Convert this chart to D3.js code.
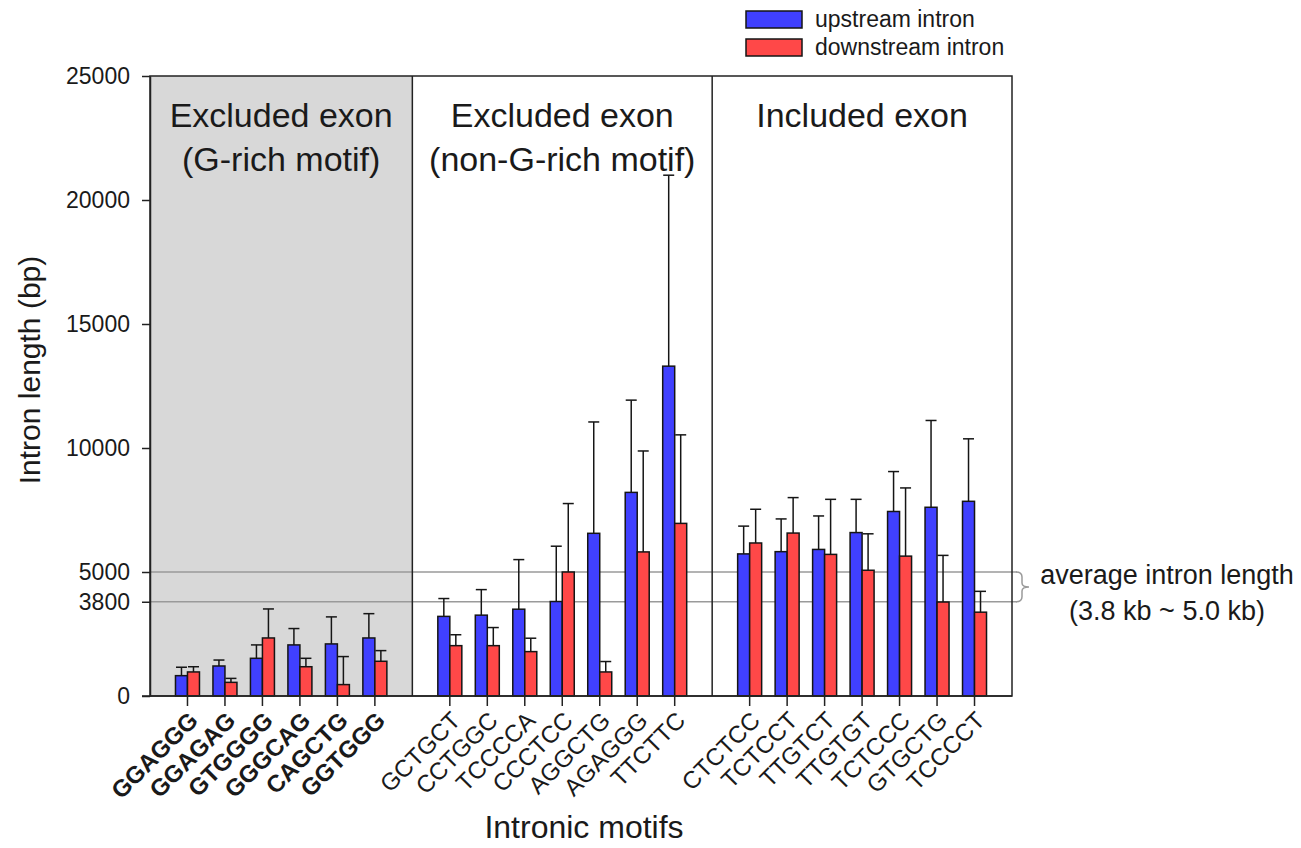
<!DOCTYPE html>
<html>
<head>
<meta charset="utf-8">
<script src="https://cdn.jsdelivr.net/npm/d3@7"></script>
<style>
body { margin: 0; background: #fff; }
text { font-family: "Liberation Sans", Arial, Helvetica, sans-serif; fill: #1a1a1a; }
</style>
</head>
<body>
<svg id="chart" width="1301" height="848"></svg>
<script>
// motifs, grouped into three panels
var motifs = ["GGAGGG", "GGAGAG", "GTGGGG", "GGGCAG", "CAGCTG", "GGTGGG",
              "GCTGCT", "CCTGGC", "TCCCCA", "CCCTCC", "AGGCTG", "AGAGGG", "TTCTTC",
              "CTCTCC", "TCTCCT", "TTGTCT", "TTGTGT", "TCTCCC", "GTGCTG", "TCCCCT"];
var groupOf = [0, 0, 0, 0, 0, 0, 1, 1, 1, 1, 1, 1, 1, 2, 2, 2, 2, 2, 2, 2];
var panelTitles = [["Excluded exon", "(G-rich motif)"], ["Excluded exon", "(non-G-rich motif)"], ["Included exon"]];

// mean intron length (bp) and error (bp)
var upstream    = [820, 1210, 1520, 2060, 2100, 2340,
                   3210, 3260, 3500, 3810, 6560, 8210, 13300,
                   5730, 5820, 5910, 6590, 7440, 7610, 7850];
var upstreamErr = [340, 240, 540, 660, 1090, 980,
                   720, 1030, 2000, 2230, 4490, 3720, 7700,
                   1120, 1320, 1350, 1340, 1610, 3500, 2520];
var downstream    = [970, 550, 2340, 1180, 460, 1400,
                     2030, 2030, 1790, 5000, 970, 5810, 6960,
                     6170, 6570, 5710, 5070, 5640, 3790, 3380];
var downstreamErr = [210, 160, 1170, 340, 1130, 430,
                     440, 730, 540, 2760, 420, 4070, 3570,
                     1360, 1430, 2220, 1470, 2750, 1880, 840];

var yTicks = [0, 3800, 5000, 10000, 15000, 20000, 25000];
var refLines = [3800, 5000];
var seriesNames = ["upstream intron", "downstream intron"];
var colors = ["#4040ff", "#ff4848"];

var svg = d3.select("#chart");
var pLeft = 150, pRight = 1012, pTop = 76, pBottom = 696;
var barW = 12;

// slots with a spacer between panels
var slots = [];
motifs.forEach(function (m, i) {
    if (i > 0 && groupOf[i] != groupOf[i - 1]) slots.push("gap" + groupOf[i]);
    slots.push(m);
});

var x = d3.scaleBand().domain(slots).range([pLeft, pRight]).paddingInner(0).paddingOuter(0.5);
var y = d3.scaleLinear().domain([0, 25000]).range([pBottom, pTop]);
function cx(d) { return x(d) + x.bandwidth() / 2; }

var edges = [pLeft, cx("gap1"), cx("gap2"), pRight];

// gray background for G-rich panel
svg.append("rect")
    .attr("x", edges[0]).attr("y", pTop)
    .attr("width", edges[1] - edges[0]).attr("height", pBottom - pTop)
    .attr("fill", "#d8d8d8");

// reference lines
svg.selectAll(".ref").data(refLines).enter().append("line")
    .attr("x1", pLeft).attr("x2", pRight + 5)
    .attr("y1", function (d) { return y(d); }).attr("y2", function (d) { return y(d); })
    .attr("stroke", "#9a9a9a").attr("stroke-width", 1.5);

// bracket next to reference lines
var yA = y(refLines[1]), yB = y(refLines[0]), ym = (yA + yB) / 2;
svg.append("path")
    .attr("d", "M" + (pRight + 4) + "," + yA + " Q" + (pRight + 10) + "," + yA + " " + (pRight + 10) + "," + (yA + 5) +
               " V" + (ym - 4) + " Q" + (pRight + 10) + "," + ym + " " + (pRight + 17) + "," + ym +
               " Q" + (pRight + 10) + "," + ym + " " + (pRight + 10) + "," + (ym + 4) +
               " V" + (yB - 5) + " Q" + (pRight + 10) + "," + yB + " " + (pRight + 4) + "," + yB)
    .attr("fill", "none").attr("stroke", "#9a9a9a").attr("stroke-width", 1.5);

// bars
var series = [
    { vals: upstream, errs: upstreamErr, off: -barW, color: colors[0] },
    { vals: downstream, errs: downstreamErr, off: 0, color: colors[1] }
];
series.forEach(function (s) {
    svg.append("g").selectAll("rect").data(motifs).enter().append("rect")
        .attr("x", function (d) { return cx(d) + s.off; })
        .attr("y", function (d, i) { return y(s.vals[i]); })
        .attr("width", barW)
        .attr("height", function (d, i) { return pBottom - y(s.vals[i]); })
        .attr("fill", s.color).attr("stroke", "#151515").attr("stroke-width", 1.5);

    var eg = svg.append("g").attr("stroke", "#151515").attr("stroke-width", 1.5);
    eg.selectAll("line.v").data(motifs).enter().append("line")
        .attr("x1", function (d) { return cx(d) + s.off + barW / 2; })
        .attr("x2", function (d) { return cx(d) + s.off + barW / 2; })
        .attr("y1", function (d, i) { return y(s.vals[i]); })
        .attr("y2", function (d, i) { return y(s.vals[i] + s.errs[i]); });
    eg.selectAll("line.c").data(motifs).enter().append("line")
        .attr("x1", function (d) { return cx(d) + s.off + barW / 2 - 5.5; })
        .attr("x2", function (d) { return cx(d) + s.off + barW / 2 + 5.5; })
        .attr("y1", function (d, i) { return y(s.vals[i] + s.errs[i]); })
        .attr("y2", function (d, i) { return y(s.vals[i] + s.errs[i]); });
});

// frame and panel dividers
svg.append("rect")
    .attr("x", pLeft).attr("y", pTop).attr("width", pRight - pLeft).attr("height", pBottom - pTop)
    .attr("fill", "none").attr("stroke", "#222").attr("stroke-width", 1.5);
svg.selectAll(".div").data(edges.slice(1, 3)).enter().append("line")
    .attr("x1", function (d) { return d; }).attr("x2", function (d) { return d; })
    .attr("y1", pTop).attr("y2", pBottom)
    .attr("stroke", "#222").attr("stroke-width", 1.5);

// panel titles
panelTitles.forEach(function (lines, g) {
    var mid = (edges[g] + edges[g + 1]) / 2;
    lines.forEach(function (t, k) {
        svg.append("text").attr("x", mid).attr("y", 127 + k * 44)
            .attr("text-anchor", "middle").style("font-size", "34px").text(t);
    });
});

// y axis
var yAxis = d3.axisLeft(y).tickValues(yTicks).tickSize(8).tickSizeOuter(0).tickPadding(12)
    .tickFormat(d3.format("d"));
var gy = svg.append("g").attr("transform", "translate(" + pLeft + ",0)").call(yAxis);
gy.select(".domain").attr("stroke", "#222").attr("stroke-width", 1.5);
gy.selectAll(".tick line").attr("stroke", "#222").attr("stroke-width", 1.5);
gy.selectAll(".tick text").style("font-size", "23px").attr("fill", "#1a1a1a");

// x axis
var xAxis = d3.axisBottom(x).tickValues(motifs).tickSize(10).tickSizeOuter(0);
var gx = svg.append("g").attr("transform", "translate(0," + pBottom + ")").call(xAxis);
gx.select(".domain").attr("stroke", "#222").attr("stroke-width", 1.5).attr("d", "M" + (pLeft - 8) + ",0H" + pRight);
gx.selectAll(".tick line").attr("stroke", "#222").attr("stroke-width", 1.5);
gx.selectAll(".tick text")
    .attr("y", 0).attr("dy", "0.35em")
    .attr("transform", "translate(6,20) rotate(-45)")
    .attr("text-anchor", "end")
    .style("font-size", "24px")
    .style("font-weight", function (d, i) { return groupOf[i] == 0 ? "bold" : "normal"; })
    .attr("fill", "#1a1a1a");

// axis titles
svg.append("text").attr("transform", "translate(40,370) rotate(-90)")
    .attr("text-anchor", "middle").style("font-size", "30px").text("Intron length (bp)");
svg.append("text").attr("x", 584).attr("y", 838)
    .attr("text-anchor", "middle").style("font-size", "32px").text("Intronic motifs");

// annotation
svg.append("text").attr("x", 1167).attr("y", 584)
    .attr("text-anchor", "middle").style("font-size", "27px").text("average intron length");
svg.append("text").attr("x", 1167).attr("y", 620)
    .attr("text-anchor", "middle").style("font-size", "27px").text("(3.8 kb ~ 5.0 kb)");

// legend
var lg = svg.append("g").attr("transform", "translate(746,11)");
seriesNames.forEach(function (n, i) {
    lg.append("rect").attr("x", 0).attr("y", i * 28).attr("width", 56).attr("height", 17)
        .attr("fill", colors[i]).attr("stroke", "#151515").attr("stroke-width", 1.5);
    lg.append("text").attr("x", 69).attr("y", i * 28 + 16).style("font-size", "23px").text(n);
});
</script>
</body>
</html>
